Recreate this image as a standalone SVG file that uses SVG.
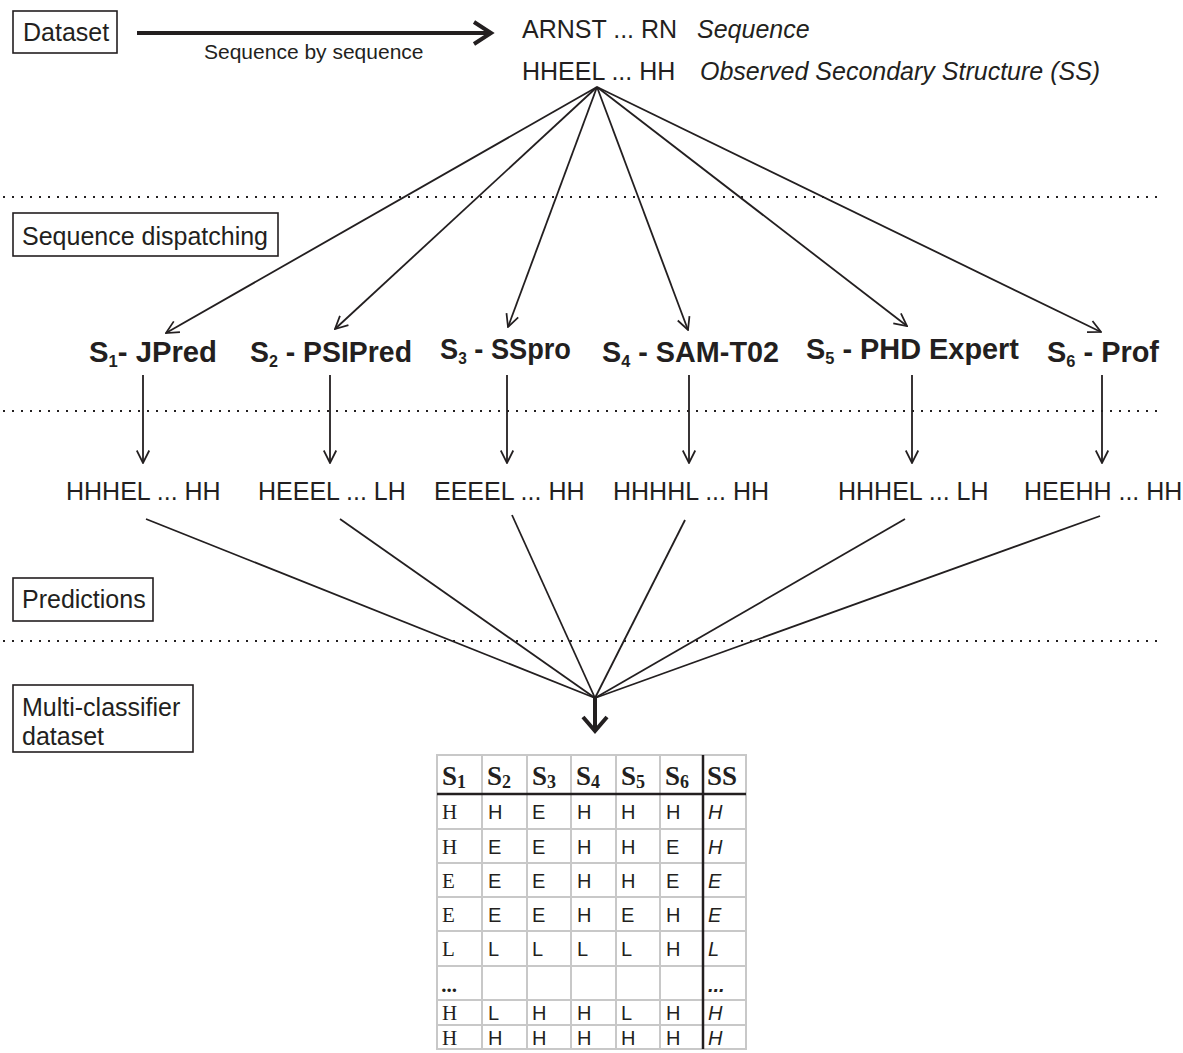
<svg xmlns="http://www.w3.org/2000/svg" width="1183" height="1053" viewBox="0 0 1183 1053">
<defs>
<style>
.t{font-family:"Liberation Sans",Arial,sans-serif;font-size:25px;fill:#231f20}
.ti{font-family:"Liberation Sans",Arial,sans-serif;font-size:25px;font-style:italic;fill:#231f20}
.lab{font-family:"Liberation Sans",Arial,sans-serif;font-size:30px;font-weight:bold;fill:#231f20}
.box{fill:none;stroke:#231f20;stroke-width:1.6}
.dot{stroke:#231f20;stroke-width:2;stroke-dasharray:2 7;fill:none}
.ln{stroke:#231f20;stroke-width:1.8;fill:none}
.grid{stroke:#c8c8c8;stroke-width:2;fill:none}
.thick{stroke:#231f20;stroke-width:2.5;fill:none}
.cs{font-family:"Liberation Serif","Times New Roman",serif;font-size:21px;fill:#231f20}
.ca{font-family:"Liberation Sans",Arial,sans-serif;font-size:20px;fill:#231f20}
.ci{font-family:"Liberation Sans",Arial,sans-serif;font-size:20px;font-style:italic;fill:#231f20}
.hd{font-family:"Liberation Serif","Times New Roman",serif;font-size:27px;font-weight:bold;fill:#231f20}
</style>
<marker id="ah" viewBox="0 0 12 12" refX="11" refY="6" markerWidth="15" markerHeight="15" markerUnits="userSpaceOnUse" orient="auto">
<path d="M1,1 L11,6 L1,11" fill="none" stroke="#231f20" stroke-width="1.4"/>
</marker>
</defs>
<rect width="1183" height="1053" fill="#fff"/>

<g id="dataset">
<rect class="box" x="13" y="11" width="104" height="42"/>
<text class="t" x="23" y="41">Dataset</text>
</g>

<g id="sequence-info">
<text class="t" x="522" y="38">ARNST ... RN</text>
<text class="ti" x="697" y="38">Sequence</text>
<text class="t" x="522" y="80">HHEEL ... HH</text>
<text class="ti" x="700" y="80">Observed Secondary Structure (SS)</text>
</g>

<g id="stage-dispatching">
<rect class="box" x="13" y="213" width="265" height="43"/>
<text class="t" x="22" y="245">Sequence dispatching</text>
</g>

<g id="stage-predictions">
<rect class="box" x="13" y="578" width="140" height="43"/>
<text class="t" x="22" y="608">Predictions</text>
</g>

<g id="stage-multiclassifier">
<rect class="box" x="13" y="685" width="180" height="67"/>
<text class="t" x="22" y="716">Multi-classifier</text>
<text class="t" x="22" y="745">dataset</text>
</g>

<g id="separators">
<line class="dot" x1="3" y1="197" x2="1162" y2="197"/>
<line class="dot" x1="3" y1="411" x2="1162" y2="411"/>
<line class="dot" x1="3" y1="641" x2="1162" y2="641"/>
</g>

<g id="classifiers">
<g id="s1"><text class="lab" x="89" y="362" textLength="128" lengthAdjust="spacingAndGlyphs">S<tspan font-size="17" dy="5">1</tspan><tspan dy="-5">- JPred</tspan></text></g>
<g id="s2"><text class="lab" x="250" y="362" textLength="162" lengthAdjust="spacingAndGlyphs">S<tspan font-size="17" dy="5">2</tspan><tspan dy="-5"> - PSIPred</tspan></text></g>
<g id="s3"><text class="lab" x="440" y="359" textLength="131" lengthAdjust="spacingAndGlyphs">S<tspan font-size="17" dy="5">3</tspan><tspan dy="-5"> - SSpro</tspan></text></g>
<g id="s4"><text class="lab" x="602" y="362" textLength="177" lengthAdjust="spacingAndGlyphs">S<tspan font-size="17" dy="5">4</tspan><tspan dy="-5"> - SAM-T02</tspan></text></g>
<g id="s5"><text class="lab" x="806" y="359" textLength="213" lengthAdjust="spacingAndGlyphs">S<tspan font-size="17" dy="5">5</tspan><tspan dy="-5"> - PHD Expert</tspan></text></g>
<g id="s6"><text class="lab" x="1047" y="362" textLength="112" lengthAdjust="spacingAndGlyphs">S<tspan font-size="17" dy="5">6</tspan><tspan dy="-5"> - Prof</tspan></text></g>
</g>

<g id="predictions">
<text class="t" x="66" y="500">HHHEL ... HH</text>
<text class="t" x="258" y="500">HEEEL ... LH</text>
<text class="t" x="434" y="500">EEEEL ... HH</text>
<text class="t" x="613" y="500">HHHHL ... HH</text>
<text class="t" x="838" y="500">HHHEL ... LH</text>
<text class="t" x="1024" y="500">HEEHH ... HH</text>
</g>

<g id="connectors">
<line x1="137" y1="33" x2="490" y2="33" stroke="#231f20" stroke-width="4"/>
<polyline points="474,22 491,33 474,44" fill="none" stroke="#231f20" stroke-width="4"/>
<text class="t" x="204" y="59" style="font-size:21px">Sequence by sequence</text>

<line class="ln" x1="597" y1="87" x2="166" y2="333" marker-end="url(#ah)"/>
<line class="ln" x1="597" y1="87" x2="335" y2="329" marker-end="url(#ah)"/>
<line class="ln" x1="597" y1="87" x2="508" y2="327" marker-end="url(#ah)"/>
<line class="ln" x1="597" y1="87" x2="688" y2="330" marker-end="url(#ah)"/>
<line class="ln" x1="597" y1="87" x2="907" y2="326" marker-end="url(#ah)"/>
<line class="ln" x1="597" y1="87" x2="1101" y2="332" marker-end="url(#ah)"/>

<line class="ln" x1="143" y1="375" x2="143" y2="463" marker-end="url(#ah)"/>
<line class="ln" x1="330" y1="375" x2="330" y2="463" marker-end="url(#ah)"/>
<line class="ln" x1="507" y1="375" x2="507" y2="463" marker-end="url(#ah)"/>
<line class="ln" x1="689" y1="375" x2="689" y2="463" marker-end="url(#ah)"/>
<line class="ln" x1="912" y1="375" x2="912" y2="463" marker-end="url(#ah)"/>
<line class="ln" x1="1102" y1="375" x2="1102" y2="463" marker-end="url(#ah)"/>

<line class="ln" x1="146" y1="519" x2="595" y2="698"/>
<line class="ln" x1="340" y1="519" x2="595" y2="698"/>
<line class="ln" x1="512" y1="515" x2="595" y2="698"/>
<line class="ln" x1="685" y1="520" x2="595" y2="698"/>
<line class="ln" x1="905" y1="519" x2="595" y2="698"/>
<line class="ln" x1="1100" y1="516" x2="595" y2="698"/>

<line x1="595" y1="698" x2="595" y2="731" stroke="#231f20" stroke-width="4"/>
<polyline points="583,717 595,731 607,717" fill="none" stroke="#231f20" stroke-width="4"/>
</g>

<g id="table">
<g class="grid">
<rect x="437" y="755" width="309" height="294"/>
<line x1="482" y1="755" x2="482" y2="1049"/>
<line x1="527" y1="755" x2="527" y2="1049"/>
<line x1="571" y1="755" x2="571" y2="1049"/>
<line x1="616" y1="755" x2="616" y2="1049"/>
<line x1="660" y1="755" x2="660" y2="1049"/>
<line x1="437" y1="829" x2="746" y2="829"/>
<line x1="437" y1="863" x2="746" y2="863"/>
<line x1="437" y1="897" x2="746" y2="897"/>
<line x1="437" y1="931" x2="746" y2="931"/>
<line x1="437" y1="966" x2="746" y2="966"/>
<line x1="437" y1="1000" x2="746" y2="1000"/>
<line x1="437" y1="1025" x2="746" y2="1025"/>
</g>
<line class="thick" x1="437" y1="794" x2="746" y2="794"/>
<line class="thick" x1="703" y1="755" x2="703" y2="1049"/>

<text class="hd" x="442" y="785">S<tspan font-size="18" dy="3">1</tspan></text>
<text class="hd" x="487" y="785">S<tspan font-size="18" dy="3">2</tspan></text>
<text class="hd" x="532" y="785">S<tspan font-size="18" dy="3">3</tspan></text>
<text class="hd" x="576" y="785">S<tspan font-size="18" dy="3">4</tspan></text>
<text class="hd" x="621" y="785">S<tspan font-size="18" dy="3">5</tspan></text>
<text class="hd" x="665" y="785">S<tspan font-size="18" dy="3">6</tspan></text>
<text class="hd" x="707" y="785">SS</text>

<g class="cs">
<text x="442" y="819">H</text>
<text x="442" y="854">H</text>
<text x="442" y="888">E</text>
<text x="442" y="922">E</text>
<text x="442" y="956">L</text>
<text x="442" y="992" font-style="italic" font-weight="bold">...</text>
<text x="442" y="1020">H</text>
<text x="442" y="1045">H</text>
</g>
<g class="ca">
<text x="488" y="819">H</text><text x="532" y="819">E</text><text x="577" y="819">H</text><text x="621" y="819">H</text><text x="666" y="819">H</text>
<text x="488" y="854">E</text><text x="532" y="854">E</text><text x="577" y="854">H</text><text x="621" y="854">H</text><text x="666" y="854">E</text>
<text x="488" y="888">E</text><text x="532" y="888">E</text><text x="577" y="888">H</text><text x="621" y="888">H</text><text x="666" y="888">E</text>
<text x="488" y="922">E</text><text x="532" y="922">E</text><text x="577" y="922">H</text><text x="621" y="922">E</text><text x="666" y="922">H</text>
<text x="488" y="956">L</text><text x="532" y="956">L</text><text x="577" y="956">L</text><text x="621" y="956">L</text><text x="666" y="956">H</text>
<text x="488" y="1020">L</text><text x="532" y="1020">H</text><text x="577" y="1020">H</text><text x="621" y="1020">L</text><text x="666" y="1020">H</text>
<text x="488" y="1045">H</text><text x="532" y="1045">H</text><text x="577" y="1045">H</text><text x="621" y="1045">H</text><text x="666" y="1045">H</text>
</g>
<g class="ci">
<text x="708" y="819">H</text>
<text x="708" y="854">H</text>
<text x="708" y="888">E</text>
<text x="708" y="922">E</text>
<text x="708" y="956">L</text>
<text x="708" y="992" font-weight="bold">...</text>
<text x="708" y="1020">H</text>
<text x="708" y="1045">H</text>
</g>
</g>
</svg>
